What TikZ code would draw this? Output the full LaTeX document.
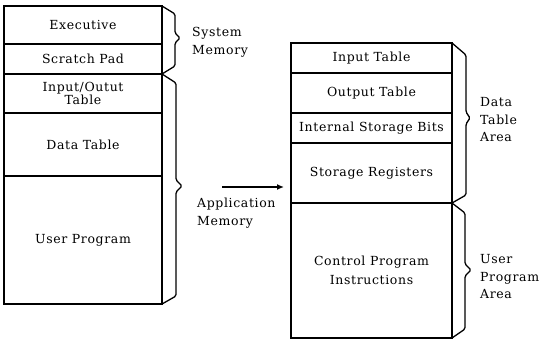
\documentclass[tikz,border=0pt]{standalone}
\usepackage{fontspec}
\usetikzlibrary{arrows.meta}
\newfontfamily\labfont{DejaVu Serif}[LetterSpace=5]
\tikzset{
  cell/.style={draw, line width=1.3pt, inner sep=0pt, outer sep=0pt, anchor=north west,
    align=center, font=\labfont\fontsize{12.5}{17.5}\selectfont},
  lab/.style={anchor=west, inner sep=0pt, align=left, font=\labfont\fontsize{12.5}{17.5}\selectfont},
  brace/.style={line width=1.3pt, rounded corners=1.5pt},
}
\begin{document}
\begin{tikzpicture}[x=1pt,y=-1pt]
\useasboundingbox (0,0) rectangle (540,343);
% left column
\node[cell, minimum width=158pt, minimum height=38pt] (exec) at (4,6) {Executive};
\node[cell, minimum width=158pt, minimum height=30pt] (scratch) at (4,44) {Scratch Pad};
\node[cell, minimum width=158pt, minimum height=39pt] (io) at (4,74) {Input/Outut\\[-4pt]Table};
\node[cell, minimum width=158pt, minimum height=63pt] (data) at (4,113) {Data Table};
\node[cell, minimum width=158pt, minimum height=128pt] (user) at (4,176) {User Program};
% right column
\node[cell, minimum width=161pt, minimum height=30pt] (inp) at (291,43) {Input Table};
\node[cell, minimum width=161pt, minimum height=40pt] (outp) at (291,73) {Output Table};
\node[cell, minimum width=161pt, minimum height=30pt] (isb) at (291,113) {Internal Storage Bits};
\node[cell, minimum width=161pt, minimum height=60pt] (sreg) at (291,143) {Storage Registers};
\node[cell, minimum width=161pt, minimum height=135pt] (cpi) at (291,203) {Control Program\\[1pt]Instructions};
% braces
\draw[brace] (exec.north east) -- (175,14) -- (175,33) -- (180,38) -- (175,43) -- (175,66) -- (scratch.south east);
\draw[brace] (io.north east) -- (176,83) -- (176,180) -- (182,186) -- (176,192) -- (176,296) -- (user.south east);
\draw[brace] (inp.north east) -- (466,55) -- (466,112) -- (470,118) -- (466,124) -- (466,195) -- (sreg.south east);
\draw[brace] (cpi.north east) -- (465,213) -- (465,264) -- (471,270) -- (465,276) -- (465,329) -- (cpi.south east);
% labels
\node[lab] (sysm) at (192,42) {System\\Memory};
\node[lab] (appm) at (197,213) {Application\\Memory};
\node[lab] (dta) at (480,120) {Data\\Table\\Area};
\node[lab] (upa) at (480,277) {User\\Program\\Area};
% arrow
\coordinate (as) at (222,187);
\coordinate (ae) at (284,187);
\draw[line width=1.3pt, -{Latex[length=7pt,width=6pt]}] (as) -- (ae);
\end{tikzpicture}
\end{document}
